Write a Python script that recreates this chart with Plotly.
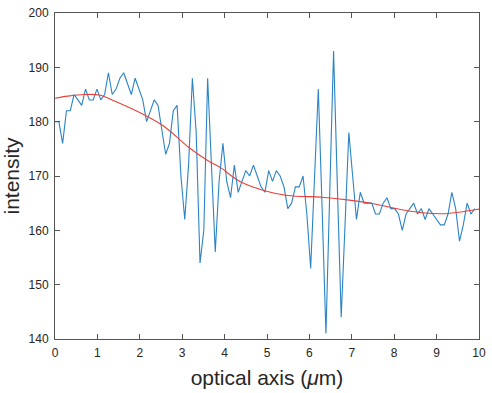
import numpy as np
import plotly.graph_objects as go

# measured intensity (sampled every 0.09 um)
dx = 0.09
intensity = [180, 180, 176, 182, 182, 185, 184, 183, 186, 184, 184, 186, 184, 185, 189, 185, 186, 188, 189, 187,
             185, 188, 186, 184, 180, 182, 184, 183, 178, 174, 176, 182, 183, 170, 162, 172, 188, 178, 154, 160,
             188, 172, 156, 169, 176, 169, 166, 172, 167, 169, 171, 170, 172, 170, 168, 167, 171, 169, 171, 170,
             168, 164, 165, 168, 168, 170, 163, 153, 170, 186, 164, 141, 167, 193, 168, 144, 161, 178, 170, 162,
             167, 165, 165, 165, 163, 163, 165, 166, 164, 164, 163, 160, 163, 164, 165, 163, 164, 162, 164, 163,
             162, 161, 161, 163, 167, 164, 158, 161, 165, 163, 164]
x_data = [i * dx for i in range(len(intensity))]

# smooth fit curve
fit_x = [0.0, 0.3, 0.7, 1.04, 1.43, 2.09, 2.56, 3.15, 3.61, 3.93, 4.2, 4.46, 4.94, 5.49, 6.3, 6.89, 7.51, 8.18, 8.72, 9.27, 9.91, 10.0]
fit_y = [184.3, 184.7, 185.0, 184.9, 183.7, 181.3, 179.2, 175.3, 172.8, 171.4, 169.8, 168.6, 167.3, 166.4, 166.1, 165.6, 164.9, 163.8, 163.2, 163.1, 163.8, 163.9]

x_ticks = list(range(0, 11))
y_ticks = [140, 150, 160, 170, 180, 190, 200]

fig = go.Figure()
fig.add_trace(go.Scatter(x=x_data, y=intensity, mode="lines",
                         line=dict(color="#2a84c6", width=1.1), showlegend=False))
fig.add_trace(go.Scatter(x=fit_x, y=fit_y, mode="lines", line_shape="spline",
                         line=dict(color="#e8403a", width=1.1), showlegend=False))

axis_common = dict(showline=True, linecolor="#555555", linewidth=1, mirror="ticks",
                   ticks="inside", ticklen=5, tickcolor="#555555", showgrid=False, zeroline=False,
                   ticklabelstandoff=3,
                   tickfont=dict(family="Liberation Sans, Arial", size=12, color="#262626"))

fig.update_layout(
    width=492, height=393,
    margin=dict(l=55, r=9, t=6, b=54),
    paper_bgcolor="white", plot_bgcolor="white",
    xaxis=dict(range=[0, 10], tickvals=x_ticks,
               title=dict(text="optical axis (<i>μ</i>m)", standoff=10,
                          font=dict(family="Liberation Sans, Arial", size=21, color="#262626")),
               **axis_common),
    yaxis=dict(range=[140, 200], tickvals=y_ticks,
               title=dict(text="intensity", standoff=8,
                          font=dict(family="Liberation Sans, Arial", size=21, color="#262626")),
               **axis_common),
)

fig.write_html("out.html")
